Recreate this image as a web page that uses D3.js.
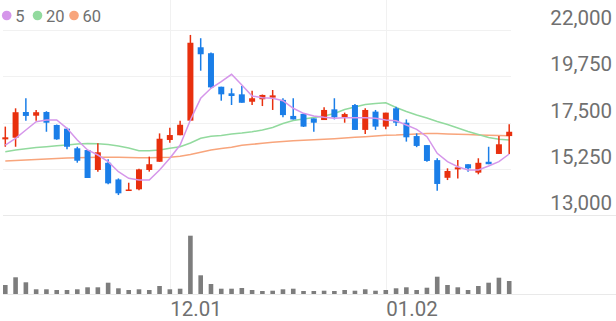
<!DOCTYPE html>
<html>
<head>
<meta charset="utf-8">
<script src="https://cdn.jsdelivr.net/npm/d3@7/dist/d3.min.js"></script>
<style>
  html, body { margin: 0; padding: 0; background: #ffffff; }
  svg { display: block; }
  text { font-family: Roboto, "Noto Sans", sans-serif; }
</style>
</head>
<body>
<svg id="chart" width="616" height="321"></svg>
<script>
const dates = ["11.09","11.10","11.11","11.14","11.15","11.16","11.17","11.18","11.21","11.22",
  "11.23","11.24","11.25","11.28","11.29","11.30","12.01","12.02","12.05","12.06",
  "12.07","12.08","12.09","12.12","12.13","12.14","12.15","12.16","12.19","12.20",
  "12.21","12.22","12.23","12.26","12.27","12.28","12.29","01.02","01.03","01.04",
  "01.05","01.06","01.09","01.10","01.11","01.12","01.13","01.16","01.17","01.18"];

const openV  = [16680,16760,18010,17830,18010,17380,17200,16245,16160,15190,
  15540,14730,14180,14250,15190,15590,16650,16880,17590,21160,
  20870,19240,18920,18870,18510,18630,18710,18600,17820,17920,
  17700,17620,18140,17750,18350,17140,18030,17300,18190,17490,
  16840,16400,15670,14810,15220,15470,15060,15590,15970,16840];
const highV  = [17300,18190,18680,18110,18050,17400,17250,16320,16160,16490,
  15710,14780,14570,15250,15840,16970,17250,17590,21760,21600,
  20900,19240,19160,19280,19050,18860,19080,18680,18680,17950,
  17700,18240,18680,17980,18400,18190,18110,17980,18270,17650,
  16970,16400,15760,15270,15680,15470,15760,16320,16840,17410];
const lowV   = [16320,16320,17590,17590,17050,16660,16200,15545,14800,15110,
  14490,13970,14180,14200,15110,15590,16520,16880,17590,20020,
  19180,18560,18350,18460,18350,18300,18110,17750,17650,17280,
  17050,17620,17650,17490,17140,16940,17140,17170,17330,16570,
  16300,15590,14180,14700,14780,15110,14980,15470,15970,15970];
const closeV = [16780,18000,17820,18000,17490,16680,16320,15640,14800,16050,
  14540,14055,14240,15220,15470,16710,16890,17390,21380,20820,
  19210,18870,18790,18460,18680,18840,18820,17860,17650,17300,
  17490,18110,17750,17910,17140,18110,17300,17980,17490,16780,
  16360,15630,14510,15140,15320,15270,15540,15470,16440,17050];
const volumeV = [450,835,585,235,235,200,200,235,335,335,
  565,285,200,235,200,400,235,265,2915,935,
  500,265,265,300,200,150,165,235,265,150,
  150,165,150,200,165,235,165,200,285,335,
  200,315,865,450,335,200,400,565,815,650];

const ma5  = [16405,16731,17135,17539,17621,17621,17218,16648,16162,15919,
  15593,15106,14785,14702,14702,15189,15758,16405,17621,18677,
  19164,19485,19845,19324,18789,18706,18677,18560,18191,17947,
  17816,17753,17704,17733,17733,17733,17704,17621,17587,17378,
  17169,16809,16001,15593,15349,15189,15189,15384,15593,15967];
const ma20 = [16079,16162,16225,16284,16323,16371,16405,16454,16478,16464,
  16430,16357,16259,16128,16128,16162,16245,16323,16503,16731,
  16829,16868,16940,16989,17052,17135,17257,17451,17597,17670,
  17743,17816,17938,18132,18254,18376,18424,18463,18230,18035,
  17865,17719,17549,17403,17232,17062,16916,16770,16683,16649];
const ma60 = [15627,15651,15676,15700,15724,15749,15773,15787,15797,15807,
  15807,15807,15797,15787,15787,15797,15807,15856,15943,16050,
  16162,16235,16293,16391,16439,16488,16537,16576,16610,16634,
  16658,16683,16712,16746,16780,16809,16843,16882,16892,16916,
  16941,16965,16965,16941,16926,16911,16897,16882,16868,16853];

const yTicks = [13000, 15250, 17500, 19750, 22000];
const xTickLabels = ["12.01", "01.02"];
const legendLabels = ["5", "20", "60"];

const colors = { up: "#e8300e", down: "#1a7ee8", vol: "#7d7d7d",
  ma5: "#d596ea", ma20: "#92da9e", ma60: "#f8a57c",
  grid: "#f1f1f1", sep: "#e9e9e9", text: "#707070" };

const svg = d3.select("#chart");
const W = 616, H = 321;

const x = d3.scalePoint().domain(dates).range([5.3, 509.2]);
const y = d3.scaleLinear().domain([13000, 22000]).range([215, 30]);
const yv = d3.scaleLinear().domain([0, 3500]).range([294, 224]);

// gridlines
const gridG = svg.append("g");
gridG.selectAll("line.h").data(yTicks.filter(t => t !== 13000)).join("line")
  .attr("x1", 3).attr("x2", 511)
  .attr("y1", d => Math.round(y(d)) + 0.5).attr("y2", d => Math.round(y(d)) + 0.5)
  .attr("stroke", colors.grid).attr("stroke-width", 1);
gridG.selectAll("line.v").data(xTickLabels).join("line")
  .attr("x1", d => Math.round(x(d)) + 0.5).attr("x2", d => Math.round(x(d)) + 0.5)
  .attr("y1", 0).attr("y2", 294)
  .attr("stroke", colors.grid).attr("stroke-width", 1);
gridG.append("line").attr("x1", 3).attr("x2", W)
  .attr("y1", Math.round(y(13000)) + 0.5).attr("y2", Math.round(y(13000)) + 0.5)
  .attr("stroke", colors.sep);
gridG.append("line").attr("x1", 3).attr("x2", W)
  .attr("y1", yv(0) + 0.5).attr("y2", yv(0) + 0.5)
  .attr("stroke", colors.sep);

// y labels
svg.append("g").selectAll("text").data(yTicks).join("text")
  .attr("x", 612).attr("y", d => y(d) - 5)
  .attr("text-anchor", "end")
  .attr("font-size", 20.5)
  .attr("fill", colors.text)
  .text(d => d3.format(",")(d));

// x labels
svg.append("g").selectAll("text").data(xTickLabels).join("text")
  .attr("x", d => x(d) + 0.5).attr("y", 316)
  .attr("text-anchor", "start")
  .attr("font-size", 20.5)
  .attr("fill", colors.text)
  .text(d => d);

// volume
svg.append("g").selectAll("rect").data(dates).join("rect")
  .attr("x", d => x(d) - 2.3).attr("width", 4.6)
  .attr("y", (d, i) => yv(volumeV[i]))
  .attr("height", (d, i) => yv(0) - yv(volumeV[i]))
  .attr("fill", colors.vol);

// moving averages
const lineGen = arr => d3.line().x((d, i) => x(dates[i])).y(d => y(d))(arr);
svg.append("path").attr("d", lineGen(ma60)).attr("fill", "none")
  .attr("stroke", colors.ma60).attr("stroke-width", 1.5);
svg.append("path").attr("d", lineGen(ma20)).attr("fill", "none")
  .attr("stroke", colors.ma20).attr("stroke-width", 1.5);

// candles
const cg = svg.append("g").selectAll("g").data(dates).join("g");
cg.append("line")
  .attr("x1", d => x(d)).attr("x2", d => x(d))
  .attr("y1", (d, i) => y(highV[i])).attr("y2", (d, i) => y(lowV[i]))
  .attr("stroke", (d, i) => closeV[i] >= openV[i] ? colors.up : colors.down)
  .attr("stroke-width", 1.5);
cg.append("rect")
  .attr("x", d => x(d) - 3).attr("width", 6)
  .attr("y", (d, i) => y(Math.max(openV[i], closeV[i])))
  .attr("height", (d, i) => Math.max(1.5, Math.abs(y(openV[i]) - y(closeV[i]))))
  .attr("fill", (d, i) => closeV[i] >= openV[i] ? colors.up : colors.down);

svg.append("path").attr("d", lineGen(ma5)).attr("fill", "none")
  .attr("stroke", colors.ma5).attr("stroke-width", 1.5);

// legend
const legendColors = [colors.ma5, colors.ma20, colors.ma60];
const legendX = [6.7, 37.5, 74];
const lg = svg.append("g");
legendLabels.forEach((l, i) => {
  lg.append("circle").attr("cx", legendX[i]).attr("cy", 15.5).attr("r", 4.8)
    .attr("fill", legendColors[i]);
  lg.append("text").attr("x", legendX[i] + 8.6).attr("y", 21.7)
    .attr("font-size", 16.5).attr("fill", colors.text).text(l);
});
</script>
</body>
</html>
